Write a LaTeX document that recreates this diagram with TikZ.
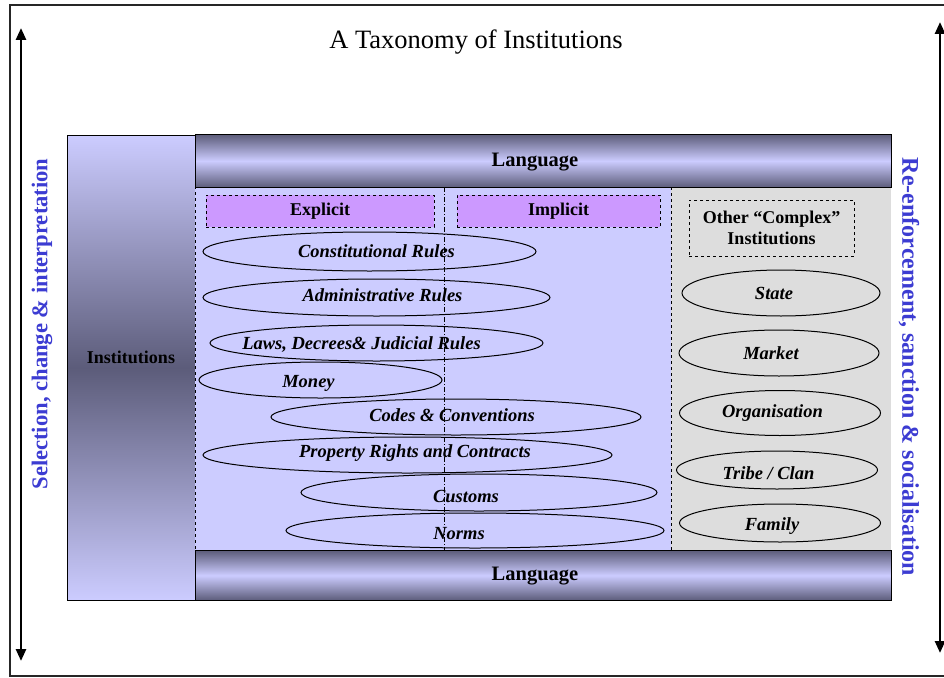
\documentclass[tikz,border=0pt]{standalone}
\usepackage{fontspec}
\setmainfont{Liberation Serif}
\usetikzlibrary{arrows.meta,shapes.geometric}
\definecolor{lav}{RGB}{204,204,255}
\definecolor{darkband}{RGB}{92,92,122}
\definecolor{greyzone}{RGB}{221,221,221}
\definecolor{purplebox}{RGB}{204,153,255}
\definecolor{bluetext}{RGB}{60,60,210}
\tikzset{
  band/.style={draw=black, line width=0.8pt, top color=darkband, bottom color=darkband, middle color=lav, inner sep=0pt},
  bandtext/.style={font=\bfseries\fontsize{20.5}{24}\selectfont, inner sep=0pt},
  tagbox/.style={draw=black, dashed, line width=0.7pt, fill=purplebox, inner sep=0pt, font=\bfseries\fontsize{18}{21}\selectfont},
  ell/.style={ellipse, draw=black, line width=1pt, inner sep=0pt},
  lbl/.style={font=\bfseries\itshape\fontsize{18.5}{22}\selectfont, inner sep=0pt},
  sidetext/.style={font=\bfseries\fontsize{22.6}{26}\selectfont, text=bluetext, inner sep=0pt},
  bigarrow/.style={line width=2.6pt, {Triangle[width=10pt,length=12pt]}-{Triangle[width=10pt,length=12pt]}}
}
\begin{document}
\begin{tikzpicture}[x=1pt,y=-1pt]
\useasboundingbox (0,0) rectangle (944,677);
% outer frame
\draw[line width=2pt, black!85] (950,5) -- (10,5) -- (10,676) -- (950,676);
% title
\node[font=\fontsize{26.5}{30}\selectfont, inner sep=0pt] (title) at (476,42) {A Taxonomy of Institutions};
% side arrows
\coordinate (la1) at (21,28); \coordinate (la2) at (21,661);
\draw[bigarrow] (la1) -- (la2);
\coordinate (ra1) at (940,22); \coordinate (ra2) at (940,653);
\draw[bigarrow] (ra1) -- (ra2);
% side texts
\node[sidetext, rotate=90] (seltext) at (42,324) {Selection, change \& interpretation};
\node[sidetext, font=\bfseries\fontsize{24}{28}\selectfont, rotate=-90] (retext) at (909,367) {Re-enforcement, sanction \& socialisation};
% institutions column
\node[draw=black, line width=0.8pt, top color=lav, bottom color=lav, middle color=darkband, minimum width=128pt, minimum height=465pt, inner sep=0pt, anchor=north west] (inst) at (67,135) {};
\node[font=\bfseries\fontsize{18}{21}\selectfont, inner sep=0pt] (instlbl) at (131,357) {Institutions};
% blue and grey zones
\node[fill=lav, draw=black, dashed, line width=0.5pt, minimum width=476pt, minimum height=363pt, inner sep=0pt, anchor=north west] (blue) at (195,187) {};
\node[fill=greyzone, draw=none, minimum width=220pt, minimum height=363pt, inner sep=0pt, anchor=north west] (grey) at (671,187) {};
\draw[dashed, line width=0.6pt] (grey.north west) -- (grey.south west);
% language bars
\node[band, minimum width=696pt, minimum height=53pt, anchor=north west] (lang1) at (195,134) {};
\node[bandtext] (lang1lbl) at (535,162) {Language};
\node[band, minimum width=696pt, minimum height=50pt, anchor=north west] (lang2) at (195,550) {};
\node[bandtext] (lang2lbl) at (535,576) {Language};
% explicit / implicit
\node[tagbox, minimum width=228pt, minimum height=32pt] (expl) at (320,211) {Explicit};
\node[tagbox, minimum width=203pt, minimum height=32pt] (impl) at (558.5,211) {Implicit};
% other complex institutions
\node[draw=black, dashed, line width=0.7pt, minimum width=165pt, minimum height=56pt, inner sep=0pt, align=center, font=\bfseries\fontsize{18}{21}\selectfont] (other) at (771.5,228) {Other ``Complex''\\Institutions};
% left ellipses
\node[ell, minimum width=333pt, minimum height=39pt, label={[lbl, xshift=7pt]center:Constitutional Rules}] (cons) at (369.5,251.5) {};
\node[ell, minimum width=347pt, minimum height=37pt, label={[lbl, xshift=6pt, yshift=2pt]center:Administrative Rules}] (admin) at (376.5,297.5) {};
\node[ell, minimum width=333pt, minimum height=36pt, label={[lbl, xshift=-15pt, yshift=-2pt]center:Laws, Decrees\& Judicial Rules}] (laws) at (376.5,343) {};
\node[ell, minimum width=243pt, minimum height=36pt, label={[lbl, xshift=-12pt, yshift=-3pt]center:Money}] (money) at (320.5,380) {};
\node[ell, minimum width=370pt, minimum height=36pt, label={[lbl, xshift=-4pt, yshift=2pt]center:Codes \& Conventions}] (codes) at (456,417) {};
\node[ell, minimum width=409pt, minimum height=36pt, label={[lbl, xshift=7.5pt, yshift=2pt]center:Property Rights and Contracts}] (prop) at (407.5,455) {};
\node[ell, minimum width=356pt, minimum height=37pt, label={[lbl, xshift=-13pt, yshift=-3.5pt]center:Customs}] (cust) at (479,492.5) {};
\node[ell, minimum width=378pt, minimum height=35pt, label={[lbl, xshift=-16pt, yshift=-3.5pt]center:Norms}] (norms) at (475,530.5) {};
% right ellipses
\node[ell, minimum width=198pt, minimum height=46pt, label={[lbl, xshift=-7pt]center:State}] (state) at (781,293) {};
\node[ell, minimum width=200pt, minimum height=46pt, label={[lbl, xshift=-8pt]center:Market}] (market) at (779,353) {};
\node[ell, minimum width=201pt, minimum height=45pt, label={[lbl, xshift=-7.5pt]center:Organisation}] (org) at (780,413) {};
\node[ell, minimum width=201pt, minimum height=38pt, label={[lbl, xshift=-8.5pt, yshift=-3pt]center:Tribe / Clan}] (tribe) at (777,470) {};
\node[ell, minimum width=201pt, minimum height=38pt, label={[lbl, xshift=-8pt, yshift=-3pt]center:Family}] (family) at (780,523) {};
% dash-dot divider
\draw[dash pattern=on 5pt off 2pt on 1pt off 2pt, line width=0.6pt] (444,187) -- (444,550);
\end{tikzpicture}
\end{document}
